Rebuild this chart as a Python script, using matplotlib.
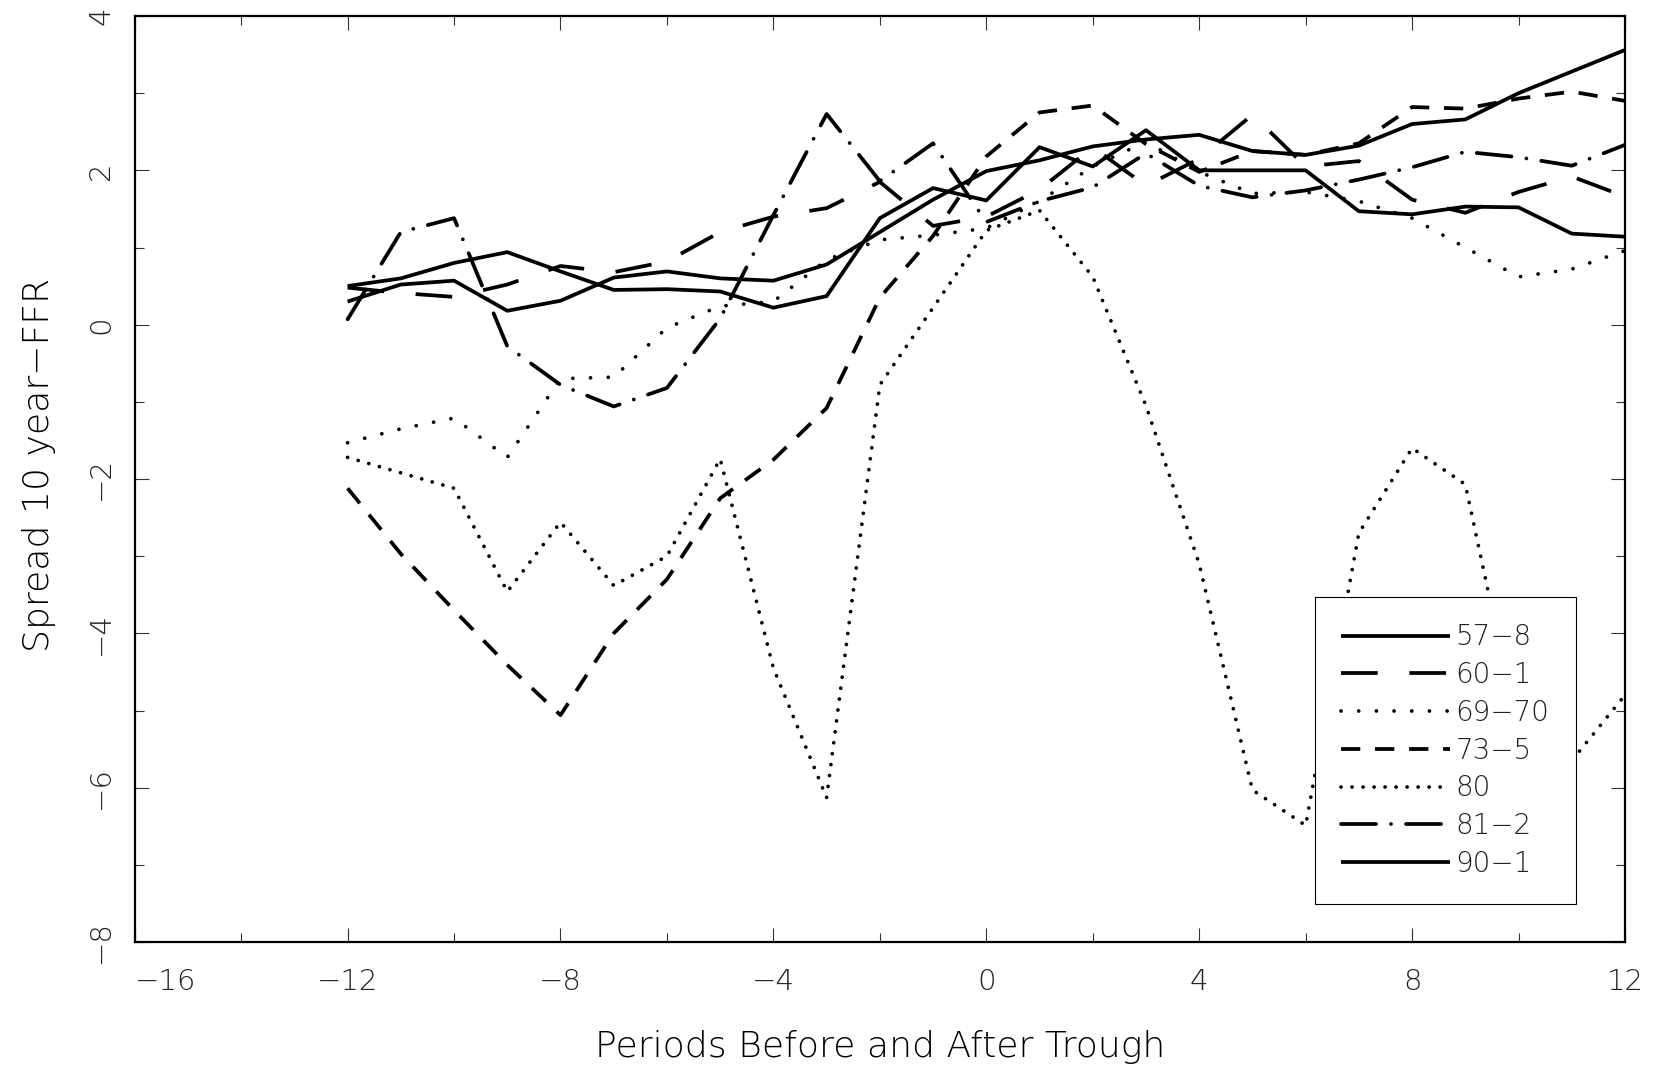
import matplotlib
matplotlib.use("Agg")
import matplotlib.pyplot as plt
from matplotlib import font_manager as fm
from matplotlib.ticker import MultipleLocator


def pick_light_font():
    # thin strokes like the original plot; take the first light face found
    prefs = ['DejaVu Sans', 'Open Sans', 'Noto Sans', 'Lato', 'Roboto', 'Inter']
    for fam in prefs:
        for f in fm.fontManager.ttflist:
            w = f.weight
            if isinstance(w, str):
                w = fm.weight_dict.get(w, 400)
            if f.name == fam and f.style == 'normal' and w <= 300:
                return fam, w
    return 'DejaVu Sans', 'normal'


font_family, font_weight = pick_light_font()
plt.rcParams['font.family'] = [font_family, 'DejaVu Sans']
plt.rcParams['font.weight'] = font_weight
plt.rcParams['axes.labelweight'] = font_weight
plt.rcParams['text.color'] = '#222222'
plt.rcParams['lines.scale_dashes'] = True

# periods relative to the trough
periods = list(range(-12, 13))

# spread (10 year - FFR) per recession episode
s_57_8 = [0.50, 0.60, 0.80, 0.94, 0.69, 0.45, 0.46, 0.43, 0.22, 0.37, 1.38, 1.77, 1.61,
          2.30, 2.05, 2.52, 2.00, 2.00, 2.00, 1.47, 1.43, 1.53, 1.52, 1.18, 1.14]
s_60_1 = [0.48, 0.41, 0.36, 0.52, 0.76, 0.68, 0.82, 1.20, 1.40, 1.51, 1.85, 1.28, 1.40,
          1.75, 2.30, 1.80, 2.15, 2.72, 2.05, 2.12, 1.62, 1.45, 1.72, 1.92, 1.66]
s_69_70 = [-1.53, -1.35, -1.21, -1.72, -0.70, -0.68, -0.04, 0.24, 0.30, 0.84, 1.10, 1.16, 1.25,
           1.60, 2.05, 2.37, 1.98, 1.70, 1.72, 1.60, 1.38, 1.00, 0.62, 0.72, 0.96]
s_73_5 = [-2.12, -2.97, -3.70, -4.41, -5.06, -4.00, -3.30, -2.25, -1.75, -1.08, 0.35, 1.15, 2.18,
          2.75, 2.84, 2.34, 1.98, 2.25, 2.20, 2.35, 2.82, 2.80, 2.93, 3.02, 2.90]
s_80 = [-1.72, -1.92, -2.12, -3.46, -2.56, -3.38, -3.00, -1.74, -4.45, -6.13, -0.78, 0.22, 1.22,
        1.48, 0.62, -1.05, -3.10, -6.03, -6.49, -2.70, -1.60, -2.07, -5.30, -5.65, -4.80]
s_81_2 = [0.07, 1.20, 1.38, -0.28, -0.78, -1.06, -0.82, 0.08, 1.42, 2.73, 1.86, 2.35, 1.33,
          1.60, 1.78, 2.22, 1.80, 1.65, 1.74, 1.88, 2.04, 2.24, 2.17, 2.06, 2.33]
s_90_1 = [0.30, 0.52, 0.57, 0.18, 0.31, 0.61, 0.69, 0.60, 0.57, 0.78, 1.20, 1.62, 1.99,
          2.13, 2.31, 2.40, 2.46, 2.25, 2.20, 2.32, 2.60, 2.66, 3.00, 3.28, 3.56]

labels = ['57\u22128', '60\u22121', '69\u221270', '73\u22125', '80', '81\u22122', '90\u22121']
series = [s_57_8, s_60_1, s_69_70, s_73_5, s_80, s_81_2, s_90_1]

lw = 2.7
# dash patterns written in points, turned into linewidth units
def pat(*pts):
    return (0, tuple(p / lw for p in pts))

styles = ['-', pat(26.4, 22.8), pat(0.03, 12.7), pat(13.9, 10.6),
          pat(0.03, 7.9), pat(25.2, 10.8, 0.03, 10.8), '-']
caps = ['butt', 'butt', 'round', 'butt', 'round', 'round', 'butt']

x_ticks = [-16, -12, -8, -4, 0, 4, 8, 12]
y_ticks = [-8, -6, -4, -2, 0, 2, 4]

W, H = 1663, 1072
fig = plt.figure(figsize=(W / 100, H / 100), dpi=100)
ax = fig.add_axes([134.7 / W, (H - 942) / H, (1625 - 134.7) / W, (942 - 16) / H])

for ys, lab, ls, cap in zip(series, labels, styles, caps):
    ax.plot(periods, ys, color='black', linewidth=lw, linestyle=ls,
            dash_capstyle=cap, solid_capstyle='butt', label=lab)

ax.set_xlim(-16, 12)
ax.set_ylim(-8, 4)

ax.set_xticks(x_ticks)
ax.set_yticks(y_ticks)
ax.xaxis.set_minor_locator(MultipleLocator(2))
ax.yaxis.set_minor_locator(MultipleLocator(1))

ax.tick_params(which='both', direction='in', top=True, right=True,
               color='#333333', width=0.8, labelcolor='#222222')
ax.tick_params(which='major', length=10)
ax.tick_params(which='minor', length=6.5)
ax.tick_params(axis='x', which='major', labelsize=21, pad=19)
ax.tick_params(axis='y', which='major', labelsize=21, pad=14, labelrotation=90)

for sp in ax.spines.values():
    sp.set_linewidth(1.6)
    sp.set_color('black')

# first x label sits inside the frame, as in the original
ax.get_xticklabels()[0].set_horizontalalignment('left')
for t in ax.get_yticklabels():
    t.set_verticalalignment('center')

ax.set_xlabel('Periods Before and After Trough', fontsize=26, fontweight=font_weight)
ax.xaxis.set_label_coords(0.5, -0.095)
ax.set_ylabel('Spread 10 year\u2212FFR', fontsize=26, fontweight=font_weight)
ax.yaxis.set_label_coords(-0.053, 0.515)

leg = ax.legend(loc='upper left', bbox_to_anchor=(1315 / W, 1 - 597 / H),
                bbox_transform=fig.transFigure, fontsize=20, frameon=True,
                fancybox=False, edgecolor='black', framealpha=1,
                borderpad=0.95, handlelength=3.9, handletextpad=0.2,
                labelspacing=0.35, borderaxespad=0)
leg.get_frame().set_linewidth(0.8)

fig.savefig('out.png', dpi=100)
